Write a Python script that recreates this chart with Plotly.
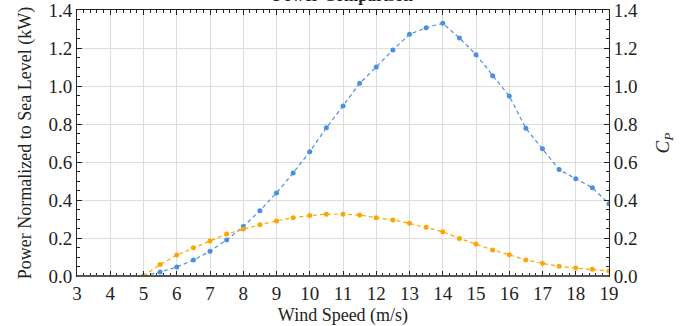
import plotly.graph_objects as go

wind_speed = [5.0, 5.5, 6.0, 6.5, 7.0, 7.5, 8.0, 8.5, 9.0, 9.5, 10.0, 10.5, 11.0, 11.5, 12.0,
              12.5, 13.0, 13.5, 14.0, 14.5, 15.0, 15.5, 16.0, 16.5, 17.0, 17.5, 18.0, 18.5, 19.0]
power_kw = [0.0, 0.021, 0.047, 0.084, 0.13, 0.19, 0.26, 0.344, 0.437, 0.542, 0.654, 0.78, 0.895,
            1.014, 1.10, 1.19, 1.272, 1.307, 1.33, 1.253, 1.165, 1.054, 0.947, 0.777, 0.67,
            0.56, 0.512, 0.465, 0.38]
cp = [0.0, 0.06, 0.11, 0.149, 0.184, 0.221, 0.247, 0.27, 0.29, 0.307, 0.318, 0.325, 0.325,
      0.321, 0.307, 0.295, 0.277, 0.256, 0.233, 0.198, 0.168, 0.137, 0.112, 0.084, 0.067,
      0.051, 0.042, 0.035, 0.026]

x_ticks = list(range(3, 20))
y_ticks = [0.0, 0.2, 0.4, 0.6, 0.8, 1.0, 1.2, 1.4]
y_tick_text = ["0.0", "0.2", "0.4", "0.6", "0.8", "1.0", "1.2", "1.4"]

BLUE = "#4a90e2"
ORANGE = "#ffa500"
FONT = "Liberation Serif"

fig = go.Figure()
fig.add_trace(go.Scatter(x=wind_speed, y=power_kw, mode="lines+markers",
                         line=dict(color=BLUE, width=1.2, dash="4px,3px"),
                         marker=dict(color=BLUE, size=5), yaxis="y", showlegend=False))
fig.add_trace(go.Scatter(x=wind_speed, y=cp, mode="lines+markers",
                         line=dict(color=ORANGE, width=1.2, dash="4px,3px"),
                         marker=dict(color=ORANGE, size=5), yaxis="y2", showlegend=False))

axis_common = dict(showline=True, linecolor="#222", linewidth=1, ticks="inside",
                   ticklen=5, tickcolor="#222", tickfont=dict(family=FONT, size=19, color="#222"),
                   zeroline=False, automargin=False, ticklabeloverflow="allow")

fig.update_layout(
    width=698, height=326,
    margin=dict(l=77, r=89, t=10, b=50),
    paper_bgcolor="white", plot_bgcolor="white",
    font=dict(family=FONT, color="#222"),
    xaxis=dict(range=[3, 19], tickvals=x_ticks, showgrid=True, gridcolor="#dcdcdc", gridwidth=1,
               mirror="ticks",
               minor=dict(dtick=0.2, ticks="inside", ticklen=3, tickcolor="#222", showgrid=False),
               title=dict(text="Wind Speed (m/s)", font=dict(family=FONT, size=18), standoff=8),
               **axis_common),
    yaxis=dict(range=[0, 1.4], tickvals=y_ticks, ticktext=y_tick_text, showgrid=True,
               gridcolor="#dcdcdc", gridwidth=1,
               minor=dict(dtick=0.05, ticks="inside", ticklen=3, tickcolor="#222", showgrid=False),
               title=dict(text="Power Normalized to Sea Level (kW)", font=dict(family=FONT, size=18), standoff=12),
               **axis_common),
    yaxis2=dict(range=[0, 1.4], tickvals=y_ticks, ticktext=y_tick_text, overlaying="y", side="right",
                showgrid=False,
                minor=dict(dtick=0.05, ticks="inside", ticklen=3, tickcolor="#222", showgrid=False),
                title=dict(text="<i>C<sub>P</sub></i>", font=dict(family=FONT, size=19), standoff=18),
                **axis_common),
)

# bottom axis drawn a bit heavier
fig.add_shape(type="line", xref="paper", yref="paper", x0=0, x1=1, y0=0, y1=0,
              line=dict(color="#555", width=2))

fig.add_annotation(text="<b>Power Comparison</b>", xref="paper", yref="paper", x=0.5, y=1,
                   xanchor="center", yanchor="bottom", yshift=3, showarrow=False,
                   font=dict(family=FONT, size=17, color="#222"))

fig.write_html("out.html")
